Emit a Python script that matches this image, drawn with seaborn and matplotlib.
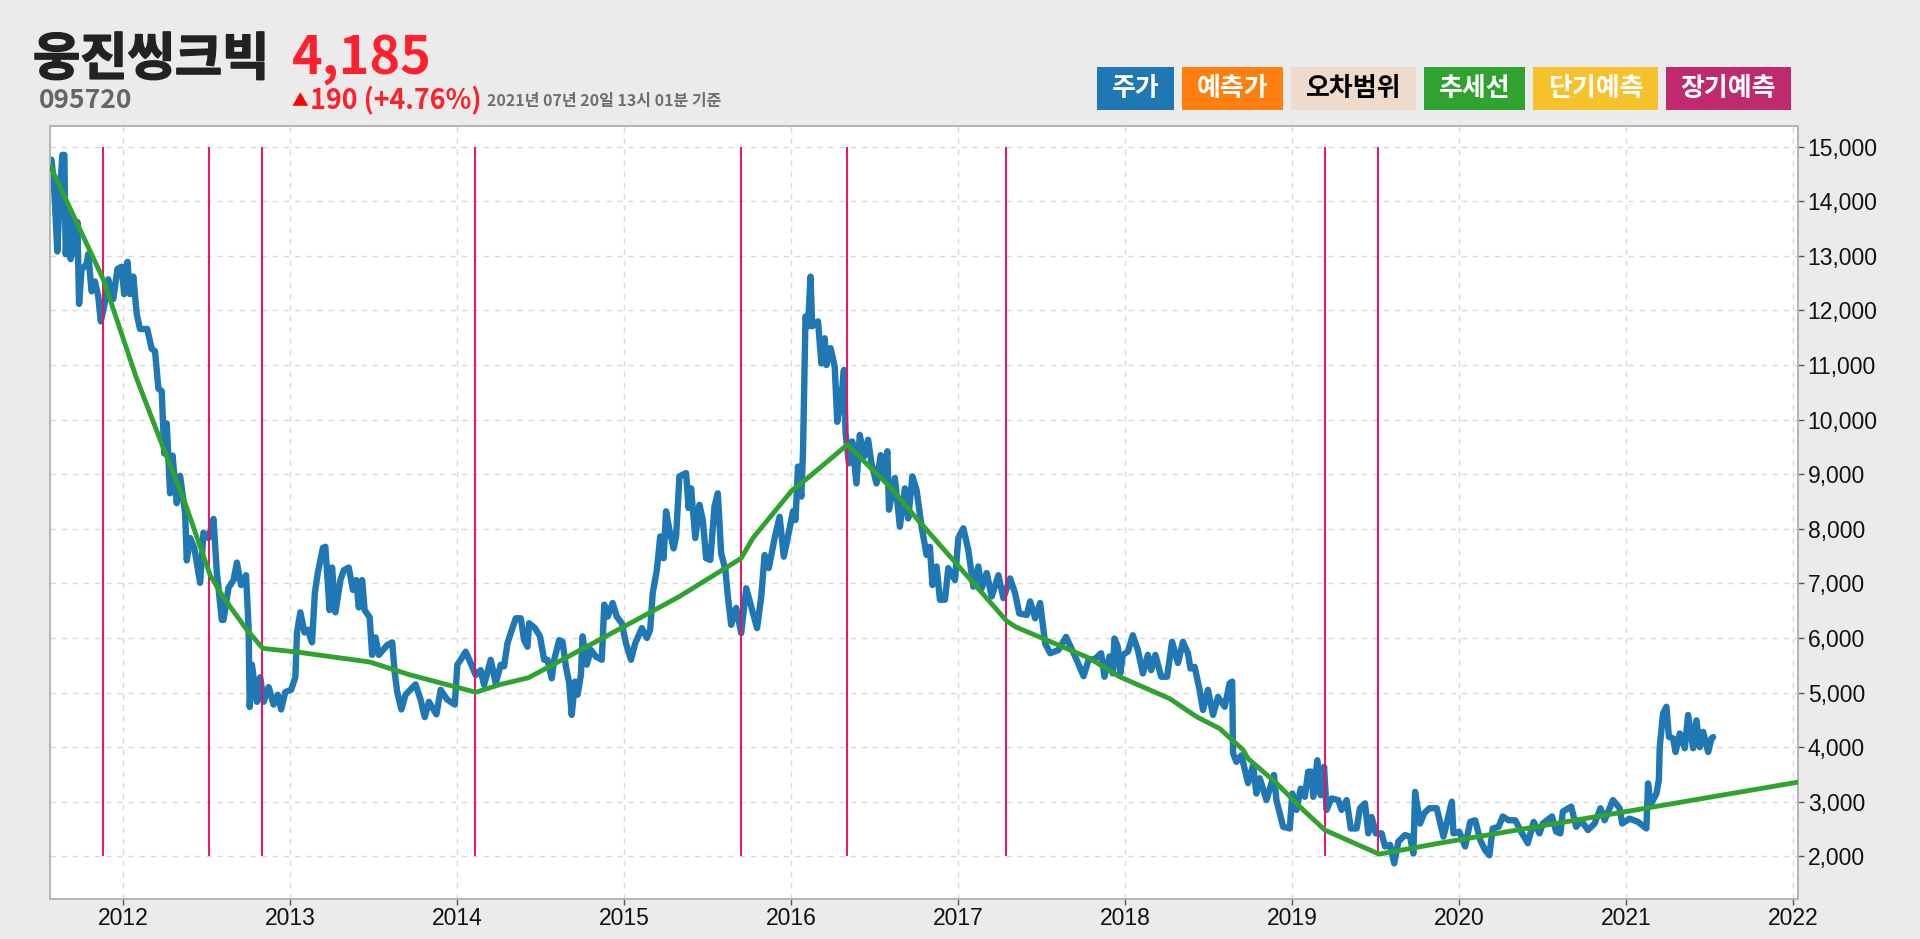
import matplotlib
matplotlib.use("Agg")
import matplotlib.pyplot as plt
import matplotlib.patheffects as pe
from matplotlib.patches import Rectangle
from matplotlib.ticker import FuncFormatter
import seaborn as sns

price_year = [2011.57,2011.585,2011.605,2011.617,2011.635,2011.647,2011.655,2011.675,2011.685,2011.70,2011.71,2011.725,2011.735,2011.75,2011.78,2011.79,2011.81,2011.83,2011.85,2011.865,2011.885,2011.91,2011.94,2011.965,2011.99,2012.005,2012.025,2012.04,2012.06,2012.08,2012.10,2012.143,2012.17,2012.19,2012.21,2012.23,2012.245,2012.26,2012.28,2012.295,2012.32,2012.34,2012.37,2012.38,2012.40,2012.425,2012.46,2012.48,2012.51,2012.54,2012.56,2012.59,2012.60,2012.63,2012.66,2012.68,2012.705,2012.735,2012.75,2012.757,2012.77,2012.80,2012.82,2012.84,2012.87,2012.90,2012.925,2012.945,2012.97,2013.005,2013.03,2013.04,2013.06,2013.085,2013.105,2013.13,2013.147,2013.165,2013.195,2013.21,2013.235,2013.25,2013.27,2013.30,2013.32,2013.35,2013.375,2013.395,2013.41,2013.43,2013.445,2013.475,2013.49,2013.51,2013.53,2013.58,2013.61,2013.625,2013.64,2013.665,2013.69,2013.75,2013.78,2013.805,2013.83,2013.875,2013.90,2013.94,2013.985,2014.00,2014.02,2014.05,2014.08,2014.11,2014.14,2014.16,2014.20,2014.23,2014.26,2014.28,2014.30,2014.32,2014.35,2014.38,2014.40,2014.42,2014.43,2014.465,2014.495,2014.52,2014.54,2014.565,2014.58,2014.61,2014.63,2014.65,2014.67,2014.685,2014.705,2014.72,2014.74,2014.75,2014.775,2014.80,2014.83,2014.865,2014.88,2014.90,2014.93,2014.955,2014.985,2015.01,2015.04,2015.065,2015.105,2015.135,2015.155,2015.17,2015.195,2015.215,2015.235,2015.25,2015.27,2015.295,2015.31,2015.33,2015.37,2015.385,2015.40,2015.425,2015.45,2015.47,2015.49,2015.515,2015.54,2015.56,2015.58,2015.605,2015.62,2015.64,2015.67,2015.70,2015.73,2015.76,2015.795,2015.82,2015.84,2015.865,2015.90,2015.93,2015.955,2015.98,2016.01,2016.025,2016.04,2016.06,2016.07,2016.085,2016.10,2016.115,2016.125,2016.16,2016.18,2016.20,2016.21,2016.235,2016.26,2016.275,2016.30,2016.315,2016.325,2016.345,2016.365,2016.39,2016.41,2016.435,2016.46,2016.48,2016.51,2016.535,2016.555,2016.575,2016.585,2016.62,2016.65,2016.68,2016.70,2016.725,2016.75,2016.78,2016.81,2016.83,2016.845,2016.87,2016.89,2016.92,2016.94,2016.98,2017.00,2017.03,2017.06,2017.09,2017.12,2017.14,2017.17,2017.20,2017.24,2017.27,2017.31,2017.34,2017.365,2017.41,2017.43,2017.46,2017.49,2017.52,2017.55,2017.60,2017.645,2017.70,2017.75,2017.78,2017.82,2017.855,2017.875,2017.905,2017.925,2017.935,2017.955,2017.97,2017.985,2018.015,2018.045,2018.075,2018.105,2018.135,2018.155,2018.18,2018.215,2018.25,2018.28,2018.315,2018.345,2018.375,2018.39,2018.415,2018.445,2018.465,2018.495,2018.525,2018.555,2018.595,2018.625,2018.64,2018.645,2018.665,2018.695,2018.735,2018.765,2018.785,2018.805,2018.845,2018.89,2018.905,2018.945,2018.985,2019.00,2019.025,2019.05,2019.075,2019.095,2019.115,2019.125,2019.15,2019.17,2019.19,2019.205,2019.235,2019.275,2019.295,2019.325,2019.35,2019.385,2019.405,2019.435,2019.455,2019.475,2019.50,2019.535,2019.555,2019.585,2019.61,2019.635,2019.675,2019.705,2019.725,2019.735,2019.765,2019.79,2019.82,2019.865,2019.905,2019.955,2019.965,2020.00,2020.035,2020.065,2020.095,2020.125,2020.155,2020.18,2020.2,2020.235,2020.26,2020.295,2020.335,2020.37,2020.41,2020.445,2020.48,2020.50,2020.555,2020.58,2020.605,2020.62,2020.67,2020.70,2020.73,2020.77,2020.81,2020.845,2020.87,2020.92,2020.96,2020.975,2021.02,2021.07,2021.12,2021.13,2021.145,2021.18,2021.195,2021.20,2021.22,2021.24,2021.255,2021.28,2021.295,2021.32,2021.35,2021.37,2021.40,2021.42,2021.44,2021.46,2021.49,2021.51,2021.52]
price_value = [14760,14300,13080,13940,14850,14850,13030,13760,12940,13670,13030,13620,12120,12750,12850,13030,12350,12530,12260,11800,12070,12570,12210,12760,12800,12300,12890,12300,12620,11940,11660,11660,11300,11250,10570,10520,9380,9930,8650,9340,8470,8970,8290,7420,7830,7650,7010,7930,7830,8180,7200,6330,6330,6920,7060,7380,6970,7150,6190,4735,5510,4830,5280,4830,5100,4780,4960,4690,5010,5050,5280,6100,6470,6100,6150,5920,6830,7200,7650,7670,6510,7290,6470,7060,7240,7290,6880,7060,6560,7060,6510,6380,5690,6010,5690,5870,5920,5370,5010,4690,4960,5150,4870,4550,4830,4600,5050,4870,4780,5510,5600,5750,5540,5320,5410,5140,5600,5170,5510,5480,5900,6090,6360,6360,5960,5840,6270,6180,6030,5600,5600,5260,5600,5960,5930,5480,5170,4590,5200,4960,5320,6030,5510,5780,5660,5600,6610,6390,6640,6390,6270,5900,5600,5900,6180,6000,6150,6820,7250,7860,7460,8320,7980,7640,7860,8960,9020,8380,8740,7830,8440,8160,7460,7430,8410,8650,7550,7250,6760,6240,6550,6090,6910,6570,6180,6760,7520,7280,7830,8220,7490,7860,8320,8160,9140,8590,9420,11890,11710,12620,11710,11800,11030,11490,11000,11310,10970,9960,10420,10910,9750,9200,9600,8830,9720,9320,9630,9200,8830,9350,8960,9420,8350,8930,8040,8740,8190,8960,8710,8040,7520,7670,6970,7310,6700,6700,7280,7060,7830,8010,7610,6940,7310,6910,7190,6760,7150,6730,7090,6820,6450,6420,6670,6360,6640,5900,5720,5780,6020,5660,5300,5600,5620,5720,5290,5660,5350,5990,5840,5350,5690,5750,6050,5780,5350,5690,5410,5690,5290,5290,5930,5540,5930,5720,5440,5470,5050,4680,5050,4590,4920,4740,5170,5200,3890,3730,3850,3340,3670,3150,3430,3030,3490,3030,2540,2510,3150,2850,3240,3090,3550,3550,3090,3760,3120,3640,2850,3060,3030,2850,3030,2510,2510,2880,2970,2420,2720,2420,2420,2180,2210,1870,2270,2390,2360,2050,3180,2600,2790,2880,2880,2360,3000,2420,2450,2180,2630,2660,2300,2110,2020,2510,2540,2730,2660,2660,2450,2240,2630,2420,2600,2730,2450,2420,2820,2910,2540,2660,2480,2600,2880,2660,3030,2880,2600,2690,2630,2510,3335,2940,3150,3400,4000,4620,4740,4190,4160,3910,4250,3980,4590,3980,4490,4000,4280,3910,4160,4185]

trend_year = [2011.565,2011.88,2012.08,2012.24,2012.37,2012.52,2012.6,2012.74,2012.835,2013.045,2013.475,2013.71,2014.11,2014.26,2014.425,2014.695,2015.09,2015.33,2015.70,2015.77,2016.0,2016.11,2016.335,2016.59,2016.75,2017.29,2017.345,2017.785,2017.965,2018.265,2018.425,2018.565,2018.705,2018.735,2018.905,2019.065,2019.195,2019.52,2019.88,2021.0,2022.03]
trend_value = [14630,12570,10750,9480,8470,7150,6740,6150,5810,5740,5560,5330,5005,5150,5270,5710,6360,6760,7460,7830,8690,8960,9540,8770,8190,6310,6200,5630,5290,4890,4560,4340,3950,3790,3340,2850,2480,2040,2240,2820,3360]

pivot_years = [2011.88,2012.514,2012.833,2014.105,2015.697,2016.333,2017.287,2019.197,2019.515]
x_ticks = list(range(2012, 2023))
y_ticks = list(range(2000, 16000, 1000))

stock_name = "웅진씽크빅"
stock_code = "095720"
last_price = "4,185"
price_arrow = "▲"
price_change = "190 (+4.76%)"
stamp = "2021년 07년 20일 13시 01분 기준"
legend_labels = ["주가", "예측가", "오차범위", "추세선", "단기예측", "장기예측"]
legend_colors = ["#1f77b4", "#ff7f0e", "#eedbcc", "#30a22f", "#f7c12b", "#bf2a6e"]
legend_text = ["white", "white", "black", "white", "white", "white"]
legend_edges = [(1097,1174),(1182,1283),(1291,1416),(1424,1525),(1533,1658),(1666,1791)]

sns.set_theme(style="white")
KR = ["Noto Sans CJK KR", "DejaVu Sans"]
plt.rcParams["font.family"] = ["Liberation Sans", "DejaVu Sans"]

W, H = 1920, 939
fig = plt.figure(figsize=(W/100, H/100), dpi=100, facecolor="#ebebeb")
ax = fig.add_axes([50/W, 1-898.5/H, (1798-50)/W, (898.5-126)/H], facecolor="white")

ax.set_axisbelow(True)
ax.grid(True, color="#d9d9d9", lw=1.0, ls=(0, (4, 4)))
sns.lineplot(x=price_year, y=price_value, ax=ax, color="#1f77b4", lw=4.6, estimator=None, sort=False, solid_joinstyle="round")
ax.vlines(pivot_years, 2000, 15000, color="#fa0a60", lw=1.4, zorder=3)
sns.lineplot(x=trend_year, y=trend_value, ax=ax, color="#30a22f", lw=3.5, estimator=None, sort=False, zorder=4)

ax.set_xlim(2011.561, 2022.028)
ax.set_ylim(1227, 15379)
ax.set_xticks(x_ticks)
ax.set_yticks(y_ticks)
ax.yaxis.tick_right()
ax.yaxis.set_major_formatter(FuncFormatter(lambda v, p: f"{int(v):,}"))
ax.tick_params(axis="both", labelsize=16.5, length=4, width=1, color="#555555", labelcolor="#111111",
               bottom=True, right=True, left=False, top=False)
ax.tick_params(axis="x", pad=2)
ax.tick_params(axis="y", pad=3)
for s in ax.spines.values():
    s.set_visible(True)
    s.set_color("#b4b4b4")
    s.set_linewidth(1.4)

def t(x, y, s, **kw):
    return fig.text(x/W, 1-y/H, s, family=KR, va="baseline", **kw)

title = t(33, 75, stock_name, fontsize=37, fontweight="bold", color="#222222")
title.set_path_effects([pe.withStroke(linewidth=1.2, foreground="#222222")])
t(39, 108, stock_code, fontsize=19, fontweight="bold", color="#666666")
t(292, 74, last_price, fontsize=37.5, fontweight="bold", color="#ff1f2d")
t(292, 106, price_arrow, fontsize=12, fontweight="bold", color="#ff0000")
t(310, 108, price_change, fontsize=19.3, fontweight="bold", color="#ff1f2d")
t(487, 106, stamp, fontsize=11.5, fontweight="bold", color="#6f6f6f")

for (x0, x1), c, lab, tc in zip(legend_edges, legend_colors, legend_labels, legend_text):
    fig.add_artist(Rectangle((x0/W, 1-110/H), (x1-x0)/W, 43/H, transform=fig.transFigure, facecolor=c, edgecolor="none"))
    fig.text((x0+x1)/2/W, 1-89/H, lab, family=KR, fontsize=18.7, fontweight="bold", color=tc, ha="center", va="center")

fig.savefig("out.png", dpi=100, facecolor=fig.get_facecolor())
